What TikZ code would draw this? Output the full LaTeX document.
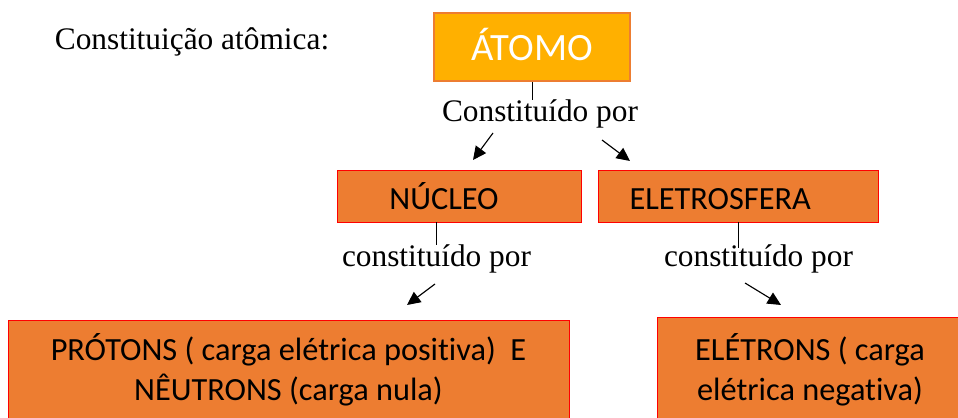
\documentclass[tikz,border=0pt]{standalone}
\usepackage{fontspec}
\setmainfont{Liberation Serif}
\newfontfamily\boxfont[Ligatures=CommonOff]{Carlito}
\usetikzlibrary{arrows.meta}

\definecolor{atomfill}{HTML}{FFB000}
\definecolor{atomline}{HTML}{ED7D31}
\definecolor{partfill}{HTML}{ED7D31}

\begin{document}
\begin{tikzpicture}[x=0.025cm,y=-0.025cm,
        atombox/.style={rectangle,draw=atomline,line width=1.4pt,fill=atomfill,
            text=white,font=\boxfont\fontsize{27.5}{32}\selectfont,
            minimum width=140pt,minimum height=49pt,inner sep=0pt,
            text height=19pt,text depth=0pt},
        partbox/.style={rectangle,draw=red,line width=0.6pt,fill=partfill,
            font=\boxfont\fontsize{23}{28.5}\selectfont,inner sep=0pt,align=center},
        onerow/.style={text height=19pt,text depth=0pt},
        caption/.style={font=\fontsize{22.3}{26}\selectfont,inner sep=0pt,anchor=base},
        arr/.style={-{Triangle[length=9.5pt,width=9pt]},line width=0.8pt}]

            %\draw [help lines] (0,0) grid (958,418);
            \useasboundingbox (0,0) rectangle (958,418);

            \path   (192,50)  node (titulo) [caption] {Constituição atômica:}
                    (532,47) node (atomo) [atombox] {ÁTOMO}
                    (540,122) node (consA) [caption] {Constituído por}
                    (459.5,196) node (nucleo) [partbox,onerow,minimum width=173pt,minimum height=37pt] {NÚCLEO\hspace*{22pt}}
                    (738.5,196) node (eletro) [partbox,onerow,minimum width=199pt,minimum height=37pt] {ELETROSFERA\hspace*{26pt}}
                    (436.5,267) node (consN) [caption] {constituído por}
                    (758.5,267) node (consE) [caption] {constituído por}
                    (288.5,370) node (protons) [partbox,minimum width=399pt,minimum height=71pt] {PRÓTONS ( carga elétrica positiva)\ \ E\\NÊUTRONS (carga nula)}
                    (810,370) node (eletrons) [partbox,minimum width=217pt,minimum height=75pt] {ELÉTRONS ( carga\\elétrica negativa)};

            \coordinate (a1) at (493,133);
            \coordinate (a2) at (473,160);
            \coordinate (b1) at (602,140);
            \coordinate (b2) at (630,161);
            \coordinate (c1) at (435,284);
            \coordinate (c2) at (407,305);
            \coordinate (d1) at (745,283);
            \coordinate (d2) at (781,305);

            \draw[line width=0.6pt] (atomo.south) -- (atomo.south |- consA.north);
            \draw[line width=0.6pt] (nucleo.south -| consN.north) -- (consN.north);
            \draw[line width=0.6pt] (eletro.south) -- ++(0,26);

            \draw[arr] (a1) -- (a2);
            \draw[arr] (b1) -- (b2);
            \draw[arr] (c1) -- (c2);
            \draw[arr] (d1) -- (d2);
        \end{tikzpicture}
\end{document}
